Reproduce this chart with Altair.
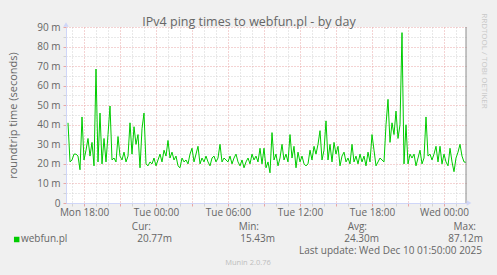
import altair as alt
import pandas as pd

# ---- data (ms), one value every 10 minutes from Mon 16:40 to Wed 01:50 ----
ping_ms = [
    41, 21, 22, 25, 25, 24, 17, 44, 22, 27, 33, 24, 31, 19, 68.5, 21, 46, 20, 33, 21,
    35, 49.6, 22, 23, 21, 34, 24, 22, 26, 21, 24, 41, 25, 39, 30, 35, 18, 38, 46, 20,
    19, 21, 20, 23, 19, 22, 25, 21, 27, 24, 32, 23, 26, 22, 24, 19, 18, 23, 21, 22,
    20, 25, 28, 21, 25, 29, 20, 23, 21, 24, 21, 19, 23, 24, 21, 23, 30, 21, 23,
    22, 21, 24, 20, 23, 25, 21, 19, 22, 18, 21, 23, 20, 25, 22, 24, 21, 28, 20, 28,
    18, 21, 15.43, 36, 22, 25, 19, 23, 30, 22, 25, 21, 35, 23, 29, 18, 26, 21, 24, 20,
    19, 20, 27, 22, 29, 25, 30, 37, 22, 27, 42, 22, 30, 21, 31, 25, 29, 19, 24, 26,
    21, 23, 20, 30, 21, 24, 20, 25, 21, 24, 19, 26, 21, 35, 27, 19, 21, 23, 22, 21,
    40, 53, 31, 41, 35, 47, 33, 40, 87.12, 20, 40, 20, 25, 23, 25, 19, 23, 27, 20, 23,
    44, 24, 25, 22, 25, 29, 21, 29, 20, 25, 21, 19, 28, 21, 16, 23, 26, 30, 24, 21, 20.77,
]
start_time = "2025-12-08 16:40"
step = "10min"

title_text = "IPv4 ping times to webfun.pl - by day"
y_title = "roundtrip time (seconds)"
series_name = "webfun.pl"
legend_headers = ["Cur:", "Min:", "Avg:", "Max:"]
legend_values = ["20.77m", "15.43m", "24.30m", "87.12m"]
last_update = "Last update: Wed Dec 10 01:50:00 2025"
footer = "Munin 2.0.76"
watermark = "RRDTOOL / TOBI OETIKER"

y_ticks = list(range(0, 95, 5))
hour_ticks = (
    [alt.DateTime(year=2025, month=12, date=8, hours=h) for h in range(17, 24)]
    + [alt.DateTime(year=2025, month=12, date=9, hours=h) for h in range(0, 24)]
    + [alt.DateTime(year=2025, month=12, date=10, hours=h) for h in range(0, 2)]
)
x_start = alt.DateTime(year=2025, month=12, date=8, hours=16, minutes=30)
x_end = alt.DateTime(year=2025, month=12, date=10, hours=1, minutes=50)

times = pd.date_range(start_time, periods=len(ping_ms), freq=step).strftime("%Y-%m-%dT%H:%M:%S")
df = pd.DataFrame({"time": list(times), "ping": ping_ms})

FONT = "Open Sans"
FONT_COLOR = "#666666"
AXIS_COLOR = "#CFD6F8"
MAJ = "#E8A6A6"
MIN = "#D2D2D2"
GREEN = "#00CC00"

x_axis = alt.Axis(
    values=hour_ticks,
    labelExpr="hours(datum.value) % 6 === 0 ? timeFormat(datum.value, '%a %H:%M') : ''",
    gridColor={"condition": {"test": "hours(datum.value) % 3 === 0", "value": MAJ}, "value": MIN},
    tickColor={"condition": {"test": "hours(datum.value) % 3 === 0", "value": MAJ}, "value": MIN},
    gridDash=[1, 2],
    tickSize=3,
    domainColor=AXIS_COLOR,
    labelColor=FONT_COLOR,
    labelFont=FONT,
    labelFontSize=10,
    labelOverlap=False,
    labelFlush=False,
    labelPadding=1,
    title=None,
)
y_axis = alt.Axis(
    values=y_ticks,
    labelExpr="datum.value % 10 === 0 ? (datum.value === 0 ? '0' : datum.value + ' m') : ''",
    gridColor={"condition": {"test": "datum.value % 10 === 0", "value": MAJ}, "value": MIN},
    tickColor={"condition": {"test": "datum.value % 10 === 0", "value": MAJ}, "value": MIN},
    gridDash=[1, 2],
    tickSize=3,
    domainColor=AXIS_COLOR,
    labelColor=FONT_COLOR,
    labelFont=FONT,
    labelFontSize=10,
    labelOverlap=False,
    labelPadding=3,
    title=y_title,
    titleFont=FONT,
    titleFontSize=11,
    titleFontWeight="normal",
    titleColor=FONT_COLOR,
    titleAngle=270,
    titleX=-53,
    titleY=88,
    titleAlign="center",
    titleBaseline="middle",
)

line = alt.Chart(df).mark_line(color=GREEN, strokeWidth=1).encode(
    x=alt.X("time:T", scale=alt.Scale(domain=[x_start, x_end], nice=False), axis=x_axis),
    y=alt.Y("ping:Q", scale=alt.Scale(domain=[0, 90], nice=False), axis=y_axis),
)


def label(text, x, y, align="left", size=10, color=FONT_COLOR, angle=0):
    return alt.Chart(pd.DataFrame({"t": [text]})).mark_text(
        align=align, baseline="middle", font=FONT, fontSize=size, color=color, angle=angle
    ).encode(x=alt.value(x), y=alt.value(y), text="t:N")


def marker(shape, x, y, color, size):
    return alt.Chart(pd.DataFrame({"t": [shape]})).mark_point(
        shape=shape, filled=True, color=color, size=size, opacity=1
    ).encode(x=alt.value(x), y=alt.value(y))


right_border = alt.Chart(pd.DataFrame({"t": ["border"]})).mark_rule(
    color="#8C8C8C", strokeWidth=1
).encode(x=alt.value(400), y=alt.value(0), y2=alt.value(176))

layers = [
    line,
    right_border,
    marker("triangle-up", 0, -2.5, AXIS_COLOR, 30),
    marker("triangle-right", 403, 176, AXIS_COLOR, 30),
    label(title_text, 183, -5.5, align="center", size=12.5),
    marker("square", -49.3, 212.5, GREEN, 30),
    label(series_name, -45, 212),
    label(last_update, 416, 224, align="right"),
    label(footer, 182, 236, align="center", size=7.5, color="#BDBDBD"),
    label(watermark, 418, 34, align="center", size=8, color="#C8C8C8", angle=90),
]
header_x = [85, 193, 301, 410]
value_x = [106, 209, 313, 417]
for h, hx in zip(legend_headers, header_x):
    layers.append(label(h, hx, 200, align="right"))
for v, vx in zip(legend_values, value_x):
    layers.append(label(v, vx, 212, align="right"))

chart = alt.layer(*layers).properties(
    width=400,
    height=176,
    padding={"left": 66, "top": 27, "right": 31, "bottom": 72},
    autosize="none",
    background="#F0F0F0",
).configure_view(stroke=None, fill="white")

chart.save("out.html", embed_options={"renderer": "svg", "actions": False})
